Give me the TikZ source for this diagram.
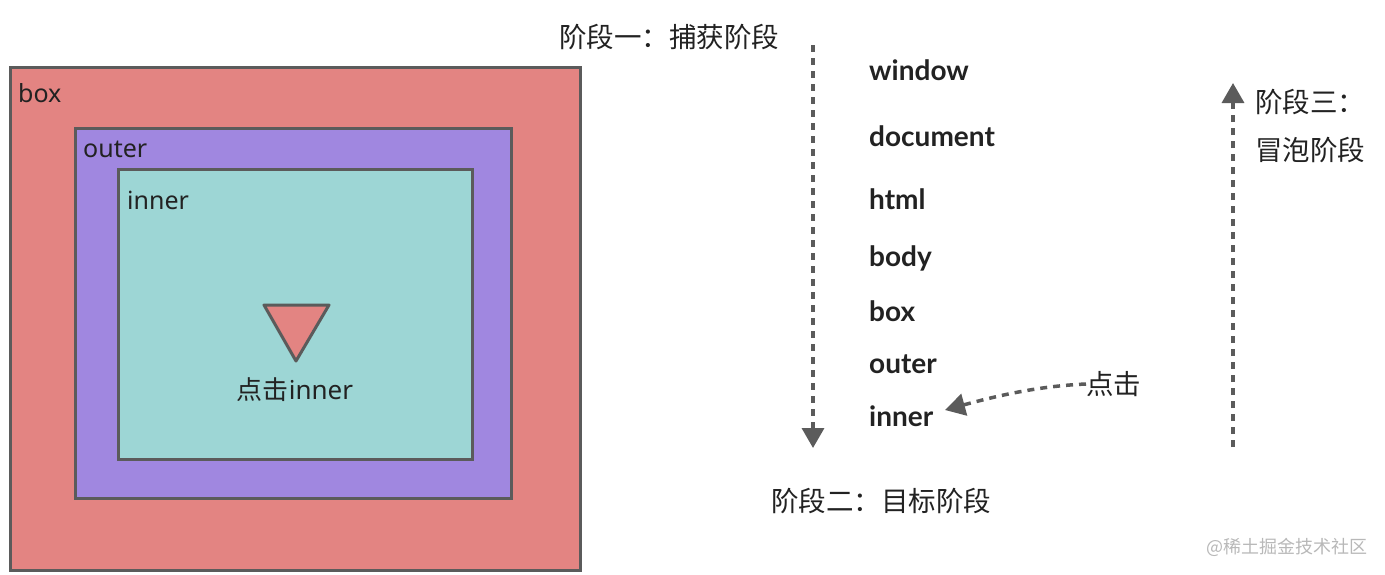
\documentclass[tikz,border=0pt]{standalone}
\usepackage{fontspec}
\setmainfont{Noto Sans}
\newfontfamily\cjk{Noto Sans CJK SC}
\newfontfamily\evtfont{Lato}
\usetikzlibrary{arrows.meta}
\definecolor{bred}{HTML}{E38482}
\definecolor{bpurple}{HTML}{A087E0}
\definecolor{bteal}{HTML}{9DD6D5}
\definecolor{bline}{HTML}{5B5B5B}
\definecolor{txt}{HTML}{222222}
\definecolor{wm}{HTML}{B8B8B8}
\tikzset{
  boxrect/.style={draw=bline,line width=3pt},
  lbl/.style={anchor=west,inner sep=0pt,text=txt,font=\fontsize{25}{29}\selectfont},
  cjklbl/.style={anchor=west,inner sep=0pt,text=txt,font=\fontsize{27.5}{32}\selectfont\cjk},
  evt/.style={anchor=west,inner sep=0pt,text=txt,font=\fontsize{28}{32}\selectfont\evtfont\bfseries},
  flow/.style={draw=bline,line width=3.5pt,dash pattern=on 7pt off 6pt,-{Triangle[length=20pt,width=22pt]}},
}
\begin{document}
\begin{tikzpicture}[x=1pt,y=-1pt]
\useasboundingbox (0,0) rectangle (1385,574);
% nested boxes
\path[boxrect,fill=bred] (10,67) rectangle (580,570);
\path[boxrect,fill=bpurple] (75,128) rectangle (511,498);
\path[boxrect,fill=bteal] (118,169) rectangle (472,459);
\node[lbl] (lbox) at (18,93) {box};
\node[lbl] (louter) at (83,149) {outer};
\node[lbl] (linner) at (127,200) {inner};
\draw[bline,line width=3pt,fill=bred,line join=round] (264,305) -- (329,305) -- (296,361) -- cycle;
\node[inner sep=0pt,text=txt,font=\fontsize{26}{30}\selectfont] (click1) at (295,390) {{\cjk 点击}inner};
% capture / target phases
\node[cjklbl] (p1) at (559,37) {阶段一：捕获阶段};
\node[cjklbl] (p2) at (771,501) {阶段二：目标阶段};
\coordinate (capS) at (813,45);
\coordinate (capE) at (813,448);
\draw[flow] (capS) -- (capE);
% event path
\node[evt] (ewindow) at (869,70) {window};
\node[evt] (edocument) at (869,136) {document};
\node[evt] (ehtml) at (869,199) {html};
\node[evt] (ebody) at (869,258) {body};
\node[evt] (ebox) at (869,311) {box};
\node[evt] (eouter) at (869,364) {outer};
\node[evt] (einner) at (869,416) {inner};
% click annotation
\node[cjklbl] (click2) at (1086,384) {点击};
\coordinate (clickTip) at (945,410);
\draw[flow] (click2.west) .. controls (1040,386) and (1000,395) .. (clickTip);
% bubble phase
\coordinate (bubS) at (1233,447);
\coordinate (bubE) at (1233,83);
\draw[flow] (bubS) -- (bubE);
\node[cjklbl] (p3a) at (1255,102) {阶段三：};
\node[cjklbl] (p3b) at (1255,150) {冒泡阶段};
% watermark
\node[anchor=west,inner sep=0pt,text=wm,font=\fontsize{18}{20}\selectfont\cjk] (wmark) at (1206,547) {@稀土掘金技术社区};
\end{tikzpicture}
\end{document}
